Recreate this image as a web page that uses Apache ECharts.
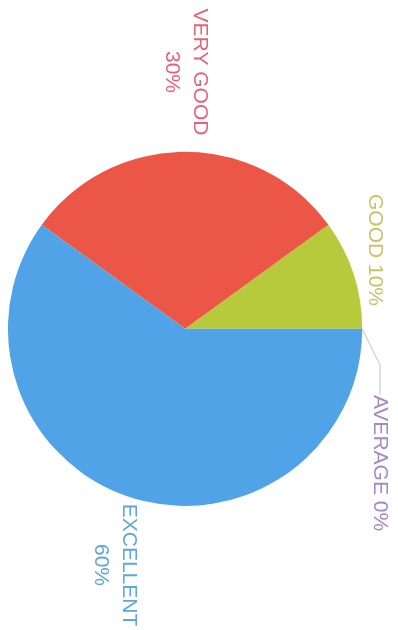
<!DOCTYPE html>
<html>
<head>
<meta charset="utf-8">
<script src="https://cdn.jsdelivr.net/npm/echarts@6/dist/echarts.min.js"></script>
<style>
html,body{margin:0;padding:0;background:#fff;}
#chart{width:398px;height:630px;}
</style>
</head>
<body>
<div id="chart"></div>
<script>
// Data
const categories = ['GOOD', 'VERY GOOD', 'EXCELLENT', 'AVERAGE'];
const values = [10, 30, 60, 0];
const sliceColors = ['#b6ca3c', '#ec5646', '#50a3e6', '#9b72c8'];
const labelColors = ['#c8c46a', '#e2647a', '#5ea8da', '#a688c8'];
const twoLine = [false, true, true, false];

// Label anchor positions (layout only)
const labelPos = [[375, 250], [186, 72], [115, 565], [380, 463]];

const chart = echarts.init(document.getElementById('chart'), null, {renderer: 'canvas'});
const data = categories.map((c, i) => ({
  name: c,
  value: values[i],
  itemStyle: {color: sliceColors[i]},
  label: {color: labelColors[i]},
  labelLine: {show: c === 'AVERAGE', lineStyle: {color: '#c4c4c4', width: 1}}
}));

chart.setOption({
  backgroundColor: '#ffffff',
  animation: false,
  series: [{
    type: 'pie',
    center: ['46.5%', '52.2%'],
    radius: '89%',
    startAngle: 0,
    clockwise: false,
    avoidLabelOverlap: false,
    data: data,
    label: {
      show: true,
      position: 'outside',
      rotate: -90,
      fontFamily: 'Liberation Sans',
      fontSize: 21,
      lineHeight: 28,
      formatter: p => twoLine[p.dataIndex] ? p.name + '\n' + p.value + '%' : p.name + ' ' + p.value + '%'
    },
    labelLayout: function (p) {
      const pos = labelPos[p.dataIndex];
      return {x: pos[0], y: pos[1], align: 'center', verticalAlign: 'middle', rotate: -90};
    }
  }]
});
</script>
</body>
</html>
